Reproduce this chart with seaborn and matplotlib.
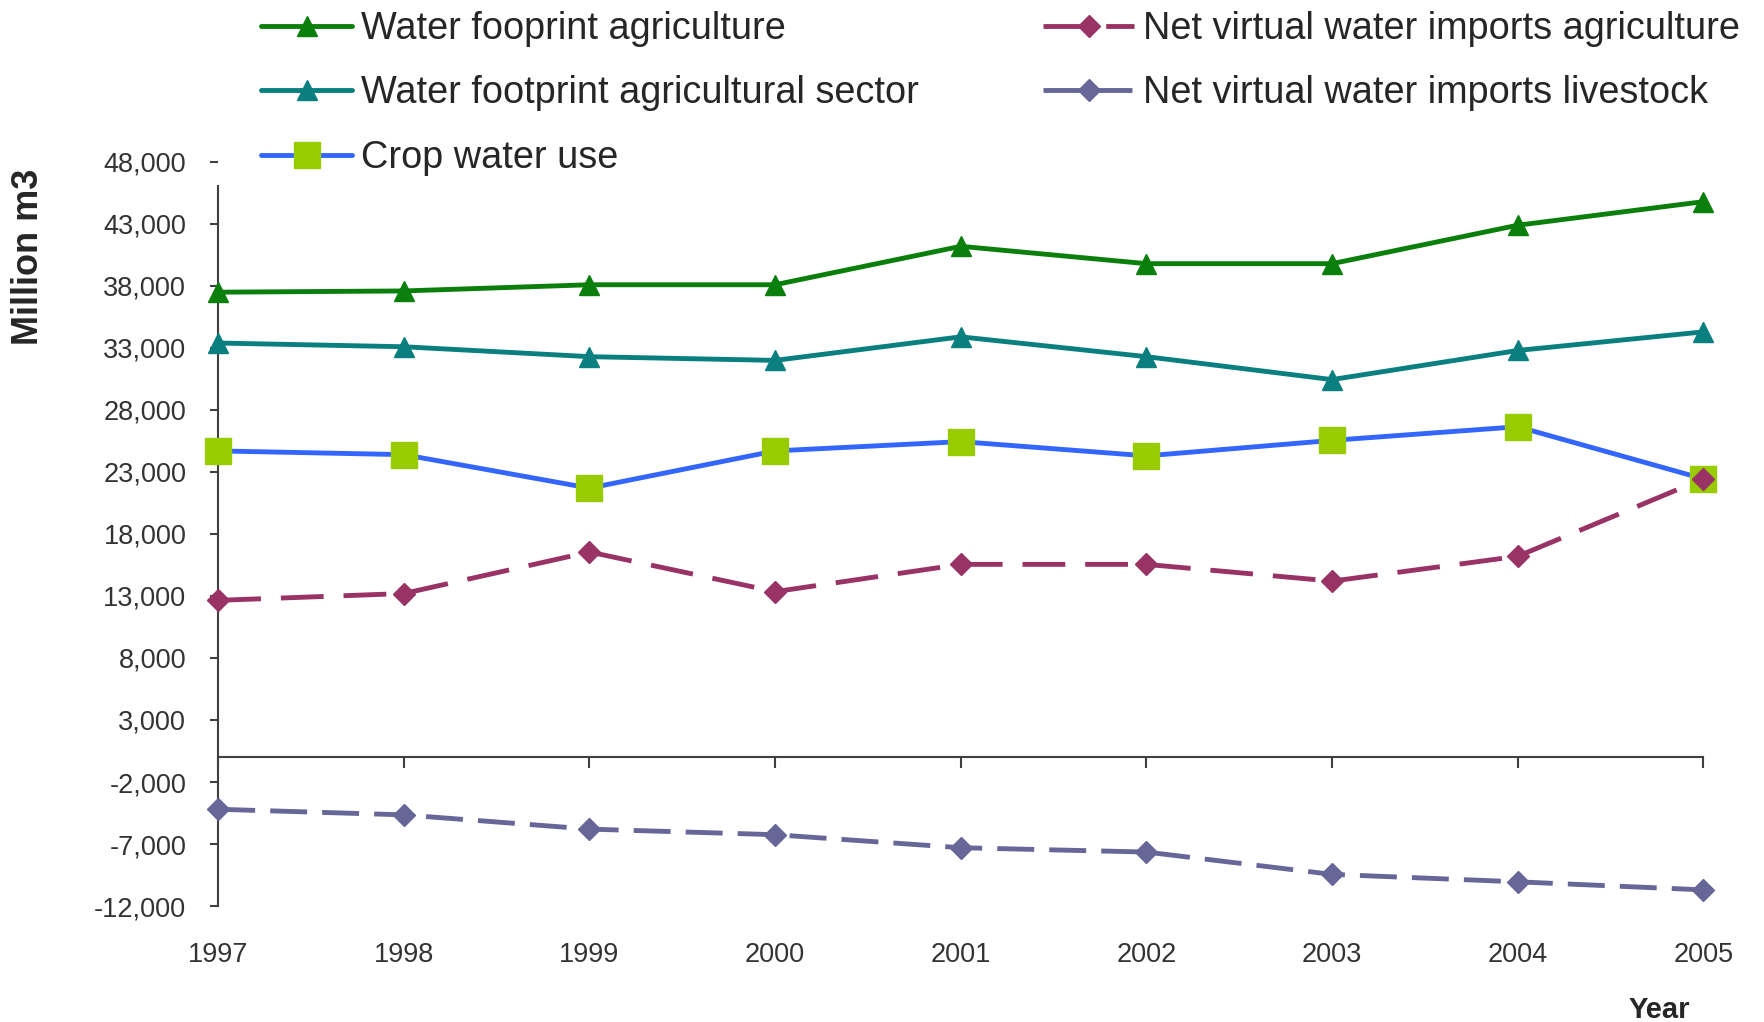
import numpy as np
import pandas as pd
import matplotlib
matplotlib.use("Agg")
import matplotlib.pyplot as plt
import seaborn as sns
from matplotlib.ticker import FuncFormatter

years = [1997, 1998, 1999, 2000, 2001, 2002, 2003, 2004, 2005]

wf_agriculture = [37500, 37600, 38100, 38100, 41200, 39800, 39800, 42900, 44800]
wf_agri_sector = [33400, 33100, 32300, 32000, 33900, 32300, 30450, 32800, 34300]
crop_water_use = [24700, 24400, 21700, 24700, 25450, 24300, 25550, 26650, 22450]
nvw_agriculture = [12650, 13200, 16550, 13350, 15550, 15550, 14200, 16200, 22450]
nvw_livestock = [-4200, -4650, -5800, -6250, -7300, -7650, -9450, -10050, -10700]

series_names = [
    "Water fooprint agriculture",
    "Water footprint agricultural sector",
    "Crop water use",
    "Net virtual water imports agriculture",
    "Net virtual water imports livestock",
]

yticks = list(range(-12000, 48001, 5000))

sns.set_theme(style="white")
plt.rcParams["font.family"] = ["Liberation Sans", "DejaVu Sans"]

fig = plt.figure(figsize=(17.64, 10.22), dpi=100)
ax = fig.add_axes([0.1237, 0.1135, 0.9656 - 0.1237, 0.8415 - 0.1135])

styles = [
    dict(color="#0b7f0b", marker="^", markersize=14, markerfacecolor="#0b7f0b", markeredgecolor="#0b7f0b", linestyle="-"),
    dict(color="#0a7f7f", marker="^", markersize=14, markerfacecolor="#0a7f7f", markeredgecolor="#0a7f7f", linestyle="-"),
    dict(color="#3366ff", marker="s", markersize=19, markerfacecolor="#99cc00", markeredgecolor="#99cc00", linestyle="-"),
    dict(color="#993366", marker="D", markersize=11, markerfacecolor="#993366", markeredgecolor="#993366", linestyle=(0, (8.8, 4.1))),
    dict(color="#666699", marker="D", markersize=11, markerfacecolor="#666699", markeredgecolor="#666699", linestyle=(0, (7.6, 3.1))),
]
values = [wf_agriculture, wf_agri_sector, crop_water_use, nvw_agriculture, nvw_livestock]

for name, vals, st in zip(series_names, values, styles):
    df = pd.DataFrame({"Year": years, "Value": vals})
    sns.lineplot(data=df, x="Year", y="Value", ax=ax, label=name, linewidth=3.5,
                 markeredgewidth=1, clip_on=False, zorder=3, **st)

ax.set_xlim(1997, 2005)
ax.set_ylim(-12000, 48000)
ax.set_yticks(yticks)
ax.yaxis.set_major_formatter(FuncFormatter(lambda v, p: f"{int(v):,}"))
ax.set_xticks(years)
ax.set_xticklabels([str(y) for y in years])

for s in ["top", "right", "bottom"]:
    ax.spines[s].set_visible(False)
ax.spines["left"].set_color("#404040")
ax.spines["left"].set_linewidth(1.5)
ax.spines["left"].set_bounds(-12000, 46100)
ax.tick_params(axis="y", direction="out", length=6, width=1.5, color="#404040",
               labelsize=19.5, labelcolor="#333333", pad=17, left=True)
ax.tick_params(axis="x", length=0, labelsize=19.5, labelcolor="#333333", pad=26)

# zero line with ticks
zero_ax = ax.secondary_xaxis(0, transform=ax.transData)
zero_ax.set_xticks(years)
zero_ax.tick_params(axis="x", direction="out", length=8, width=1.5, color="#404040", labelbottom=False)
zero_ax.spines["bottom"].set_color("#404040")
zero_ax.spines["bottom"].set_linewidth(1.5)

ax.set_xlabel("")
ax.set_ylabel("")
fig.text(0.016, 0.749, "Million m3", rotation=90, fontsize=26, fontweight="bold",
         ha="center", va="center")
fig.text(0.9405, 0.012, "Year", fontsize=21, fontweight="bold", ha="center", va="center")

handles, labels = ax.get_legend_handles_labels()
ax.get_legend().remove()
leg = fig.legend(handles, labels, loc="upper left", bbox_to_anchor=(0.1437, 0.9967), ncol=2,
                 fontsize=27.3, frameon=False,
                 handlelength=2.4, handletextpad=0.24, labelspacing=0.75, columnspacing=3.27,
                 borderpad=0.2, borderaxespad=0)

fig.savefig("out.png", dpi=100)
